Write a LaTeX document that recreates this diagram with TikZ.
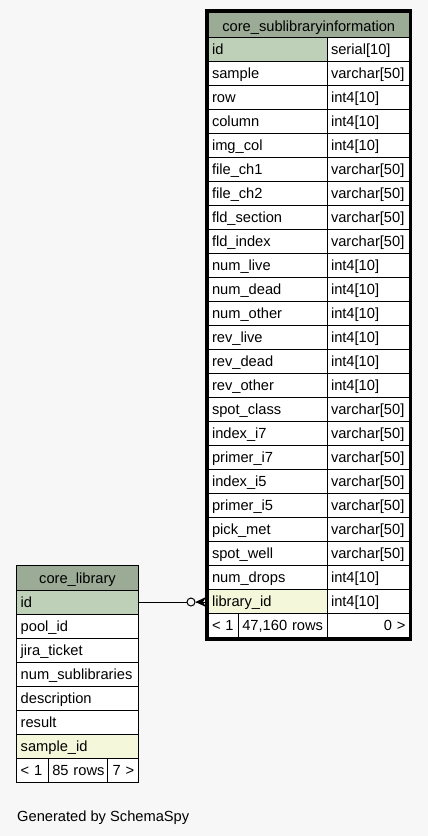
\documentclass[tikz,border=0pt]{standalone}
\usepackage{fontspec}
\setmainfont{Liberation Sans}
\usetikzlibrary{calc}
\definecolor{bgc}{HTML}{F7F7F7}
\definecolor{headc}{HTML}{9BAB96}
\definecolor{pkc}{HTML}{BED1B8}
\definecolor{idxc}{HTML}{F4F7DA}
\tikzset{
  txt/.style={font=\fontsize{14.67}{17}\selectfont},
  cell/.style={txt, draw=black, line width=1pt, anchor=north west, inner xsep=4pt, inner ysep=0pt,
    outer sep=0pt, minimum height=24pt, text height=11pt, text depth=0.4pt, align=left, fill=white},
  headcell/.style={cell, fill=headc, align=center, text height=13pt, text depth=0pt},
  rel/.style={draw=black, line width=1pt},
}
\begin{document}
\begin{tikzpicture}[x=1pt,y=-1pt]
\fill[bgc] (0,0) rectangle (428,836);
\useasboundingbox (0,0) rectangle (428,836);

% ---- core_sublibraryinformation ----
\node[headcell, minimum height=25pt, text width=193.5pt] (bh) at (208,12) {core\_sublibraryinformation};
\foreach \n/\t/\f [count=\i from 0] in {
  id/serial[10]/pkc, sample/varchar[50]/white, row/int4[10]/white, column/int4[10]/white,
  img\_col/int4[10]/white, file\_ch1/varchar[50]/white, file\_ch2/varchar[50]/white,
  fld\_section/varchar[50]/white, fld\_index/varchar[50]/white, num\_live/int4[10]/white,
  num\_dead/int4[10]/white, num\_other/int4[10]/white, rev\_live/int4[10]/white,
  rev\_dead/int4[10]/white, rev\_other/int4[10]/white, spot\_class/varchar[50]/white,
  index\_i7/varchar[50]/white, primer\_i7/varchar[50]/white, index\_i5/varchar[50]/white,
  primer\_i5/varchar[50]/white, pick\_met/varchar[50]/white, spot\_well/varchar[50]/white,
  num\_drops/int4[10]/white, library\_id/int4[10]/idxc}{
  \node[cell, fill=\f, text width=111pt] (bn\i) at (208,{37+24*\i}) {\n};
  \node[cell, text width=74.5pt] (bt\i) at (327,{37+24*\i}) {\t};
}
\node[cell, text width=22.3pt] (bf1) at (208,613) {\mbox{< 1}};
\node[cell, text width=80.7pt] (bf2) at (238.3,613) {\mbox{47,160 rows}};
\node[cell, text width=74.5pt, align=right] (bf3) at (327,613) {\mbox{0 >}};
\draw[line width=3pt] ($(bh.north west)+(-1.5,-1.5)$) rectangle ($(bf3.south east)+(1.3,2.2)$);

% ---- core_library ----
\node[headcell, minimum height=24.5pt, text height=11.5pt, text width=113.6pt] (sh) at (16.7,565.5) {core\_library};
\foreach \n/\f [count=\i from 0] in {
  id/pkc, pool\_id/white, jira\_ticket/white, num\_sublibraries/white,
  description/white, result/white, sample\_id/idxc}{
  \node[cell, fill=\f, text width=113.6pt] (sn\i) at (16.7,{590+24*\i}) {\n};
}
\node[cell, text width=23.6pt] (sf1) at (16.7,758) {\mbox{< 1}};
\node[cell, text width=51.4pt] (sf2) at (48.3,758) {\mbox{85 rows}};
\node[cell, text width=22.6pt, align=right] (sf3) at (107.7,758) {\mbox{7 >}};

% ---- relationship ----
\coordinate (fk) at ($(bn23.west |- sn0.east)+(-2,0)$);
\node[circle, rel, fill=bgc, minimum size=8pt, inner sep=0pt] (circ) at ($(fk)+(-15,0)$) {};
\draw[rel] (sn0.east) -- (circ.west);
\coordinate (crow) at (circ.east);
\fill[black] (crow) -- ($(fk)+(0,-5)$) -- ($(fk)+(-3,0)$) -- ($(fk)+(0,5)$) -- cycle;
\draw[rel] (crow) -- (fk);

% ---- footer ----
\node[txt, anchor=base west, inner sep=0pt] (gen) at (17,821) {Generated by SchemaSpy};
\end{tikzpicture}
\end{document}
